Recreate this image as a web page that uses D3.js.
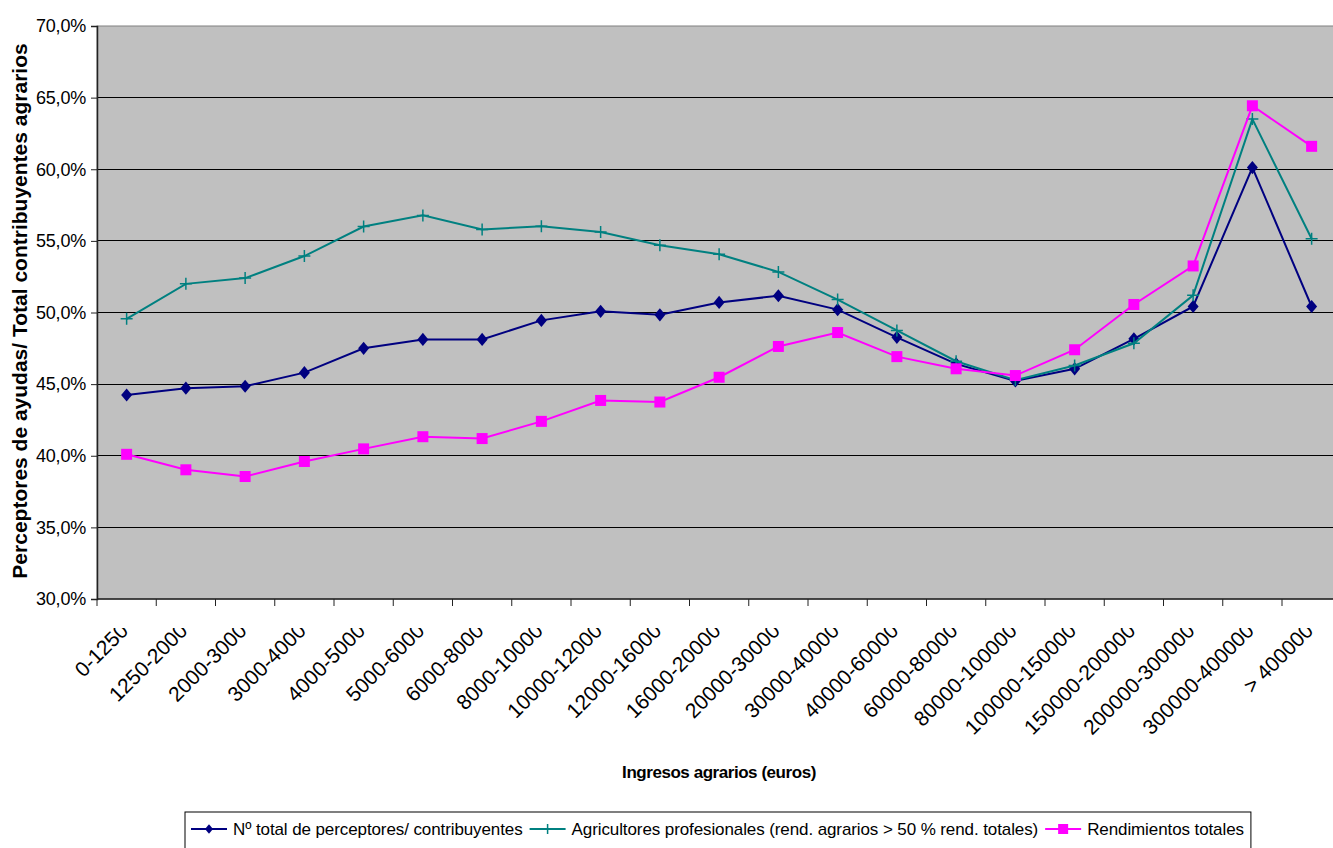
<!DOCTYPE html>
<html>
<head>
<meta charset="utf-8">
<script src="https://cdn.jsdelivr.net/npm/d3@7"></script>
<style>
  body { margin: 0; background: #fff; }
  svg text { font-family: "Liberation Sans", Arial, sans-serif; fill: #000; }
</style>
</head>
<body>
<svg id="chart" width="1333" height="848"></svg>
<script>
const categories = ["0-1250","1250-2000","2000-3000","3000-4000","4000-5000","5000-6000","6000-8000","8000-10000","10000-12000","12000-16000","16000-20000","20000-30000","30000-40000","40000-60000","60000-80000","80000-100000","100000-150000","150000-200000","200000-300000","300000-400000","> 400000"];
const seriesTotal = [44.24,44.72,44.85,45.8,47.5,48.12,48.12,49.45,50.08,49.84,50.7,51.17,50.2,48.27,46.41,45.22,46.07,48.16,50.42,60.12,50.42];
const seriesProf = [49.56,52.0,52.4,53.94,56.0,56.78,55.8,56.02,55.62,54.7,54.07,52.83,50.9,48.75,46.6,45.28,46.3,47.85,51.2,63.5,55.15];
const seriesRend = [40.1,39.02,38.55,39.6,40.48,41.33,41.2,42.4,43.86,43.75,45.48,47.63,48.6,46.92,46.07,45.6,47.4,50.56,53.25,64.43,61.6];
const yTicks = [30,35,40,45,50,55,60,65,70];
const seriesNames = ["Nº total de perceptores/ contribuyentes","Agricultores profesionales (rend. agrarios > 50 % rend. totales)","Rendimientos totales"];
const seriesColors = ["#000080","#008080","#FF00FF"];
const xTitle = "Ingresos agrarios (euros)";
const yTitle = "Perceptores de ayudas/ Total contribuyentes agrarios";

(function () {
const svg = d3.select("#chart");
const pLeft = 97, pTop = 26, pBottom = 599, step = 59.25;
const x = d3.scaleBand().domain(categories).range([pLeft, pLeft + step * categories.length]).padding(0);
const y = d3.scaleLinear().domain([30,70]).range([pBottom, pTop]);
const cx = d => x(d) + x.bandwidth() / 2;

// plot background
svg.append("rect").attr("x", pLeft).attr("y", pTop).attr("width", x.range()[1] - pLeft).attr("height", pBottom - pTop)
  .attr("fill", "#C0C0C0").attr("stroke", "#808080").attr("stroke-width", 1);

// gridlines
svg.append("g").selectAll("line").data(yTicks.filter(t => t > 30 && t < 70)).join("line")
  .attr("x1", pLeft).attr("x2", x.range()[1]).attr("y1", d => y(d)).attr("y2", d => y(d))
  .attr("stroke", "#000").attr("stroke-width", 1).attr("shape-rendering", "crispEdges");

// y axis
const yAxis = svg.append("g").attr("transform", `translate(${pLeft},0)`)
  .call(d3.axisLeft(y).tickValues(yTicks).tickSize(6).tickPadding(5)
    .tickFormat(d => d.toFixed(1).replace(".", ",") + "%"));
yAxis.select(".domain").attr("stroke", "#222").attr("stroke-width", 1.5);
yAxis.selectAll(".tick line").attr("stroke", "#222");
yAxis.selectAll(".tick text").attr("font-size", 18).attr("letter-spacing", "-0.2px")
  .attr("font-family", "Liberation Sans, Arial, sans-serif").attr("fill", "#000");

// x axis line and ticks at boundaries
svg.append("line").attr("x1", pLeft).attr("x2", x.range()[1]).attr("y1", pBottom).attr("y2", pBottom)
  .attr("stroke", "#222").attr("stroke-width", 1.5);
const bounds = categories.map(d => x(d)).concat([x.range()[1]]);
svg.append("g").selectAll("line").data(bounds).join("line")
  .attr("x1", d => d).attr("x2", d => d).attr("y1", pBottom).attr("y2", pBottom + 7)
  .attr("stroke", "#222").attr("stroke-width", 1);

// x labels (clipped like the original)
svg.append("clipPath").attr("id", "xlabclip").append("rect")
  .attr("x", 0).attr("y", 628).attr("width", 1333).attr("height", 220);
svg.append("g").attr("clip-path", "url(#xlabclip)").selectAll("text").data(categories).join("text")
  .attr("transform", d => `translate(${cx(d) + 3},632) rotate(-45)`)
  .attr("text-anchor", "end").attr("font-size", 21)
  .text(d => d);

// axis titles
svg.append("text").attr("x", 719).attr("y", 778).attr("text-anchor", "middle")
  .attr("font-size", 17).attr("font-weight", "bold").attr("letter-spacing", "-0.45px").text(xTitle);
svg.append("text").attr("transform", `translate(27,311) rotate(-90)`).attr("text-anchor", "middle")
  .attr("font-size", 21).attr("font-weight", "bold").text(yTitle);

// series
const allSeries = [seriesTotal, seriesProf, seriesRend];
const line = d3.line().x((v, i) => cx(categories[i])).y(v => y(v));
const markers = [
  (g, px, py, s) => g.append("path").attr("d", `M${px},${py - s * 1.2}L${px + s},${py}L${px},${py + s * 1.2}L${px - s},${py}Z`).attr("fill", seriesColors[0]),
  (g, px, py, s) => g.append("path").attr("d", `M${px - s},${py}H${px + s}M${px},${py - s}V${py + s}`).attr("stroke", seriesColors[1]).attr("stroke-width", 1.5).attr("fill", "none"),
  (g, px, py, s) => g.append("rect").attr("x", px - s).attr("y", py - s).attr("width", 2 * s).attr("height", 2 * s).attr("fill", seriesColors[2])
];
const mSizes = [5.5, 6, 5.5];
allSeries.forEach((vals, k) => {
  const g = svg.append("g");
  g.append("path").datum(vals).attr("d", line).attr("fill", "none")
    .attr("stroke", seriesColors[k]).attr("stroke-width", 2);
  vals.forEach((v, i) => markers[k](g, cx(categories[i]), y(v), mSizes[k]));
});

// legend
const lg = svg.append("g");
const lgTop = 812;
const box = lg.append("rect").attr("y", lgTop).attr("height", 60).attr("fill", "#fff").attr("stroke", "#000").attr("stroke-width", 1);
let lx = 191;
const ly = 829;
const lSizes = [4, 5, 5];
seriesNames.forEach((name, k) => {
  lg.append("line").attr("x1", lx).attr("x2", lx + 36).attr("y1", ly).attr("y2", ly)
    .attr("stroke", seriesColors[k]).attr("stroke-width", 2);
  markers[k](lg, lx + 18, ly, lSizes[k]);
  const t = lg.append("text").attr("x", lx + 42).attr("y", ly + 6).attr("font-size", 17)
    .attr("letter-spacing", "-0.1px").text(name);
  lx = lx + 42 + t.node().getComputedTextLength() + 7;
});
box.attr("x", 185).attr("width", lx - 185);
})();
</script>
</body>
</html>
